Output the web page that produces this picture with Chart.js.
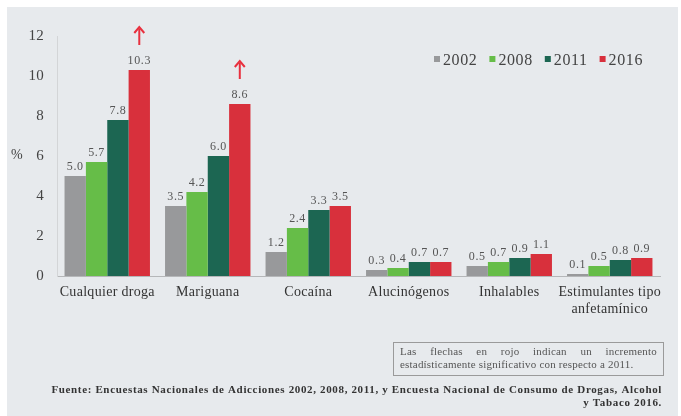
<!DOCTYPE html>
<html>
<head>
<meta charset="utf-8">
<script src="https://cdn.jsdelivr.net/npm/chart.js@4/dist/chart.umd.min.js"></script>
<style>
html,body{margin:0;padding:0;background:#fff;}
#wrap{width:681px;height:416px;position:relative;}
</style>
</head>
<body>
<div id="wrap"><canvas id="c" width="681" height="416"></canvas></div>
<script>
const categories = [['Cualquier droga'], ['Mariguana'], ['Cocaína'], ['Alucinógenos'], ['Inhalables'], ['Estimulantes tipo', 'anfetamínico']];
const years = ['2002', '2008', '2011', '2016'];
const v2002 = [5.0, 3.5, 1.2, 0.3, 0.5, 0.1];
const v2008 = [5.7, 4.2, 2.4, 0.4, 0.7, 0.5];
const v2011 = [7.8, 6.0, 3.3, 0.7, 0.9, 0.8];
const v2016 = [10.3, 8.6, 3.5, 0.7, 1.1, 0.9];
const significant2016 = [true, true, false, false, false, false];
const yTicks = [0, 2, 4, 6, 8, 10, 12];
const noteLines = ['Las flechas en rojo indican un incremento', 'estadísticamente significativo con respecto a 2011.'];
const sourceLines = ['Fuente: Encuestas Nacionales de Adicciones 2002, 2008, 2011, y Encuesta Nacional de Consumo de Drogas, Alcohol', 'y Tabaco 2016.'];

const colors = ['#98999b', '#66bd48', '#1c6652', '#d8303c'];
const SERIF = "'Liberation Serif', 'DejaVu Serif', serif";

const bgPlugin = {
  id: 'bg',
  beforeDraw(chart) {
    const ctx = chart.ctx;
    ctx.save();
    ctx.fillStyle = '#ffffff';
    ctx.fillRect(0, 0, chart.width, chart.height);
    ctx.fillStyle = '#e7eaed';
    ctx.fillRect(7, 7, 671, 409);
    ctx.restore();
    ctx.letterSpacing = '0.3px';
  }
};

const decoPlugin = {
  id: 'deco',
  afterDatasetsDraw(chart) {
    const ctx = chart.ctx;
    ctx.save();
    ctx.letterSpacing = '0.6px';
    ctx.font = '12px ' + SERIF;
    ctx.fillStyle = '#555';
    ctx.textAlign = 'center';
    ctx.textBaseline = 'alphabetic';
    chart.data.datasets.forEach((ds, di) => {
      const meta = chart.getDatasetMeta(di);
      meta.data.forEach((bar, i) => {
        ctx.fillText(ds.data[i].toFixed(1), bar.x, bar.y - 6);
      });
    });
    const redMeta = chart.getDatasetMeta(3);
    ctx.strokeStyle = '#e8303e';
    ctx.lineWidth = 2;
    redMeta.data.forEach((bar, i) => {
      if (!significant2016[i]) return;
      const x = bar.x, yb = bar.y - 25, yt = bar.y - 43;
      ctx.beginPath();
      ctx.moveTo(x, yb);
      ctx.lineTo(x, yt + 2);
      ctx.stroke();
      ctx.beginPath();
      ctx.moveTo(x - 5, yt + 6);
      ctx.lineTo(x, yt);
      ctx.lineTo(x + 5, yt + 6);
      ctx.stroke();
    });
    ctx.restore();
  },
  afterDraw(chart) {
    const ctx = chart.ctx;
    ctx.save();
    ctx.letterSpacing = '0px';
    ctx.font = '14px ' + SERIF;
    ctx.fillStyle = '#444';
    ctx.textAlign = 'left';
    ctx.textBaseline = 'middle';
    ctx.fillText('%', 11, 155);
    // legend
    ctx.letterSpacing = '0.6px';
    ctx.font = '16px ' + SERIF;
    ctx.textBaseline = 'alphabetic';
    let x = 434;
    chart.data.datasets.forEach((ds) => {
      ctx.fillStyle = ds.backgroundColor;
      ctx.fillRect(x, 56, 6, 6);
      ctx.fillStyle = '#444';
      ctx.fillText(ds.label, x + 9, 65);
      x += 9 + ctx.measureText(ds.label).width + 12;
    });
    // note box
    ctx.strokeStyle = '#9a9a9a';
    ctx.lineWidth = 1;
    ctx.strokeRect(393.5, 342.5, 270, 33);
    ctx.letterSpacing = '0.2px';
    ctx.font = '11px ' + SERIF;
    ctx.fillStyle = '#555';
    const boxL = 400, boxR = 657;
    const words = noteLines[0].split(' ');
    const wsum = words.reduce((a, w) => a + ctx.measureText(w).width, 0);
    const gap = (boxR - boxL - wsum) / (words.length - 1);
    let wx = boxL;
    words.forEach(w => { ctx.fillText(w, wx, 355); wx += ctx.measureText(w).width + gap; });
    ctx.fillText(noteLines[1], boxL, 368);
    // source
    ctx.font = 'bold 11px ' + SERIF;
    ctx.fillStyle = '#333';
    ctx.textAlign = 'right';
    ctx.letterSpacing = '0.65px';
    ctx.fillText(sourceLines[0], 662, 393);
    ctx.fillText(sourceLines[1], 662, 406);
    ctx.restore();
  }
};

new Chart(document.getElementById('c'), {
  type: 'bar',
  data: {
    labels: categories,
    datasets: years.map((y, i) => ({
      label: y,
      data: [v2002, v2008, v2011, v2016][i],
      backgroundColor: colors[i],
      borderWidth: 0,
      categoryPercentage: 0.85,
      barPercentage: 1.0
    }))
  },
  options: {
    responsive: false,
    animation: false,
    devicePixelRatio: 1,
    layout: { padding: { left: 0, right: 21, top: 36, bottom: 0 } },
    plugins: { legend: { display: false }, tooltip: { enabled: false } },
    scales: {
      x: {
        grid: { display: false, drawTicks: false },
        border: { display: true, color: '#b5b7b9', width: 1 },
        ticks: { color: '#333', font: { family: SERIF, size: 14 }, padding: 8, maxRotation: 0, autoSkip: false },
        afterFit(s) { s.height = 140; }
      },
      y: {
        min: 0, max: 12,
        afterBuildTicks(s) { s.ticks = yTicks.map(v => ({ value: v })); },
        grid: { display: false, drawTicks: false },
        border: { display: true, color: '#d3d5d7', width: 1 },
        ticks: { color: '#444', font: { family: SERIF, size: 15 }, padding: 13 },
        afterFit(s) { s.width = 57; }
      }
    }
  },
  plugins: [bgPlugin, decoPlugin]
});
</script>
</body>
</html>
